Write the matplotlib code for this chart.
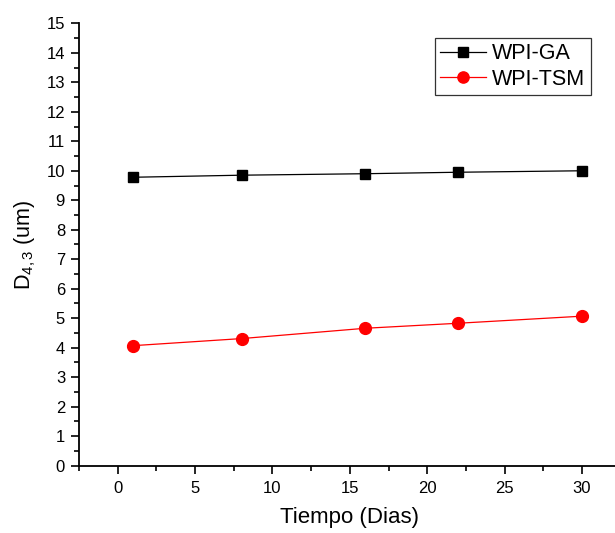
import matplotlib
matplotlib.use("Agg")
import matplotlib.pyplot as plt
from matplotlib.ticker import MultipleLocator

plt.rcParams['font.family'] = ['Liberation Sans', 'DejaVu Sans']
plt.rcParams['mathtext.fontset'] = 'custom'
plt.rcParams['mathtext.rm'] = 'Liberation Sans'
plt.rcParams['mathtext.it'] = 'Liberation Sans'

dias = [1, 8, 16, 22, 30]
wpi_ga = [9.78, 9.85, 9.90, 9.95, 10.00]
wpi_tsm = [4.07, 4.31, 4.66, 4.83, 5.07]

fig = plt.figure(figsize=(6.15, 5.33), dpi=100)
ax = fig.add_axes([79/615, (533-465.7)/533, (620.75-79)/615, (465.7-23.3)/533])

ax.plot(dias, wpi_ga, color='black', lw=0.9, marker='s', ms=7.5, label='WPI-GA')
ax.plot(dias, wpi_tsm, color='red', lw=0.9, marker='o', ms=8.5, label='WPI-TSM')

ax.set_xlim(-2.5, 32.5)
ax.set_ylim(0, 15)
ax.xaxis.set_major_locator(MultipleLocator(5))
ax.xaxis.set_minor_locator(MultipleLocator(2.5))
ax.yaxis.set_major_locator(MultipleLocator(1))
ax.yaxis.set_minor_locator(MultipleLocator(0.5))

for s in ['top', 'right']:
    ax.spines[s].set_visible(False)
for s in ['left', 'bottom']:
    ax.spines[s].set_linewidth(1.3)

ax.tick_params(which='major', direction='out', length=6, width=1.2, labelsize=12)
ax.tick_params(axis='x', which='major', pad=5)
ax.tick_params(axis='y', which='major', pad=4)
ax.tick_params(which='minor', direction='out', length=3.5, width=1.2)

ax.set_xlabel('Tiempo (Dias)', fontsize=16, labelpad=8)
ax.set_ylabel('D$_{\\mathrm{4,3}}$ (um)', fontsize=15.5, labelpad=6)

leg = ax.legend(loc='upper left', fontsize=15.5, frameon=True, fancybox=False, edgecolor='black',
                handlelength=2.1, borderpad=0.25, labelspacing=0.2, handletextpad=0.3,
                borderaxespad=0, markerscale=0.95)
leg.set_bbox_to_anchor((435/615, 1 - 38/533), transform=fig.transFigure)
leg.get_frame().set_linewidth(0.9)

fig.savefig('out.png', dpi=100)
